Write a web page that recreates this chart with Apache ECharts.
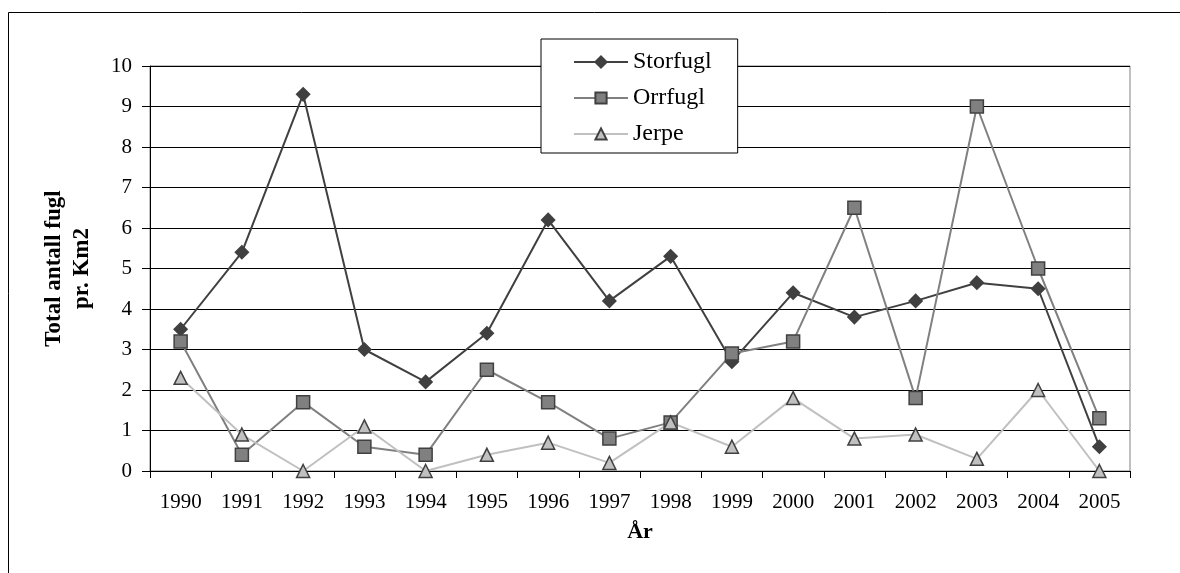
<!DOCTYPE html>
<html>
<head>
<meta charset="utf-8">
<script src="https://cdn.jsdelivr.net/npm/echarts@6/dist/echarts.min.js"></script>
<style>
  html, body { margin: 0; padding: 0; background: #fff; }
  #main { width: 1180px; height: 573px; }
</style>
</head>
<body>
<div id="main"></div>
<script>
var years = ['1990', '1991', '1992', '1993', '1994', '1995', '1996', '1997',
             '1998', '1999', '2000', '2001', '2002', '2003', '2004', '2005'];
var storfugl = [3.5, 5.4, 9.3, 3.0, 2.2, 3.4, 6.2, 4.2, 5.3, 2.7, 4.4, 3.8, 4.2, 4.65, 4.5, 0.6];
var orrfugl = [3.2, 0.4, 1.7, 0.6, 0.4, 2.5, 1.7, 0.8, 1.2, 2.9, 3.2, 6.5, 1.8, 9.0, 5.0, 1.3];
var jerpe = [2.3, 0.9, 0.0, 1.1, 0.0, 0.4, 0.7, 0.2, 1.2, 0.6, 1.8, 0.8, 0.9, 0.3, 2.0, 0.0];

var font = '"Liberation Serif", "Times New Roman", serif';

function lineSeries(name, data, lineColor, fill, border, symbol, size) {
    return {
        name: name,
        type: 'line',
        data: data,
        symbol: symbol,
        symbolSize: size,
        lineStyle: { color: lineColor, width: 2 },
        itemStyle: { color: fill, borderColor: border, borderWidth: 1.5 },
        emphasis: { disabled: true },
        z: 3
    };
}

var myChart = echarts.init(document.getElementById('main'));
var option = {
    backgroundColor: '#fff',
    animation: false,
    textStyle: { fontFamily: font },
    grid: {
        left: 150, right: 50, top: 66, bottom: 102,
        show: true,
        borderColor: '#808080',
        borderWidth: 1
    },
    graphic: [{
        type: 'rect',
        shape: { x: 8.5, y: 12.5, width: 1300, height: 700 },
        style: { fill: null, stroke: '#000', lineWidth: 1 },
        silent: true
    }],
    legend: {
        left: 541,
        top: 39,
        orient: 'vertical',
        backgroundColor: '#fff',
        borderColor: '#000',
        borderWidth: 1,
        padding: [11, 26, 7, 32],
        itemWidth: 54,
        itemHeight: 14,
        itemGap: 12,
        textStyle: { fontFamily: font, fontSize: 24, color: '#000' },
        data: ['Storfugl', 'Orrfugl', 'Jerpe'],
        z: 10
    },
    xAxis: {
        type: 'category',
        data: years,
        boundaryGap: true,
        name: 'År',
        nameLocation: 'middle',
        nameGap: 50,
        nameTextStyle: { fontFamily: font, fontSize: 22, fontWeight: 'bold', color: '#000' },
        axisLine: { lineStyle: { color: '#000', width: 1 } },
        axisTick: { show: true, length: 7, lineStyle: { color: '#000' } },
        axisLabel: { fontFamily: font, fontSize: 21, color: '#000', margin: 21 },
        splitLine: { show: false }
    },
    yAxis: {
        type: 'value',
        min: 0,
        max: 10,
        interval: 1,
        name: 'Total antall fugl\npr. Km2',
        nameLocation: 'middle',
        nameGap: 54,
        nameTextStyle: { fontFamily: font, fontSize: 23, fontWeight: 'bold', color: '#000', lineHeight: 28 },
        axisLine: { show: true, lineStyle: { color: '#000', width: 1 } },
        axisTick: { show: true, length: 8, lineStyle: { color: '#000' } },
        axisLabel: { fontFamily: font, fontSize: 21, color: '#000', margin: 18 },
        splitLine: { show: true, lineStyle: { color: '#000', width: 1 } }
    },
    series: [
        lineSeries('Storfugl', storfugl, '#404040', '#404040', '#404040', 'diamond', 13),
        lineSeries('Orrfugl', orrfugl, '#808080', '#808080', '#404040', 'rect', 13),
        lineSeries('Jerpe', jerpe, '#c0c0c0', '#c0c0c0', '#404040', 'triangle', 13)
    ]
};
if (option && typeof option === "object") {
    myChart.setOption(option, true);
}
</script>
</body>
</html>
